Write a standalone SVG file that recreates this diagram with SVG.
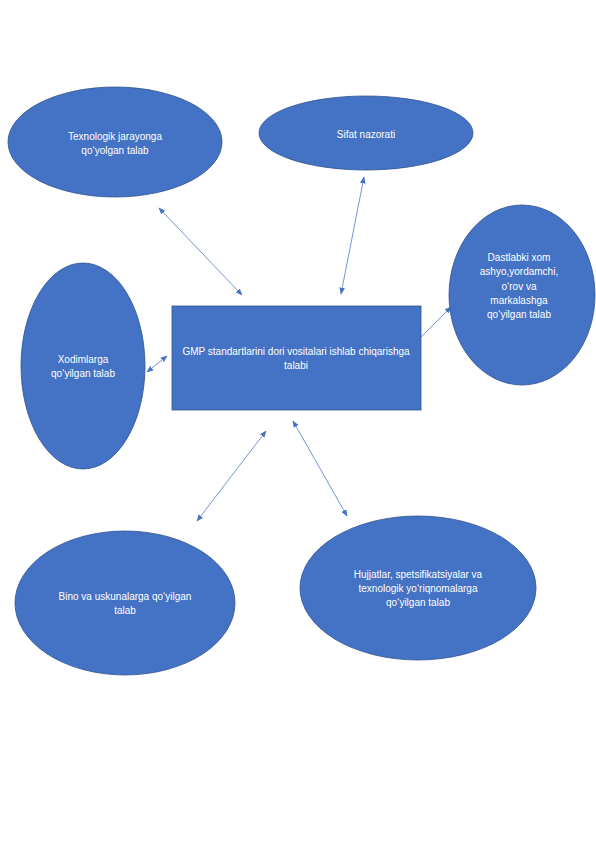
<svg xmlns="http://www.w3.org/2000/svg" width="596" height="842" viewBox="0 0 596 842">
<defs>
<style>
.node{fill:#4472C4;stroke:#2F528F;stroke-width:0.8}
.lbl{font-family:"Liberation Sans",Arial,sans-serif;font-size:10px;fill:#ffffff;text-anchor:middle}
.con{stroke:#4472C4;stroke-width:0.75;fill:none}
</style>
<marker id="ah" viewBox="0 0 10 10" refX="9" refY="5" markerWidth="7" markerHeight="7" orient="auto-start-reverse" markerUnits="userSpaceOnUse">
<path d="M0,1 L10,5 L0,9 Z" fill="#4472C4"/>
</marker>
</defs>
<rect width="596" height="842" fill="#ffffff"/>
<g id="connectors">
<line class="con" x1="159" y1="208" x2="242" y2="295" marker-start="url(#ah)" marker-end="url(#ah)"/>
<line class="con" x1="364" y1="177" x2="341" y2="294" marker-start="url(#ah)" marker-end="url(#ah)"/>
<line class="con" x1="421" y1="337" x2="451" y2="307" marker-end="url(#ah)"/>
<line class="con" x1="147" y1="372" x2="167" y2="356" marker-start="url(#ah)" marker-end="url(#ah)"/>
<line class="con" x1="266" y1="431" x2="197" y2="521" marker-start="url(#ah)" marker-end="url(#ah)"/>
<line class="con" x1="293" y1="421" x2="347" y2="516" marker-start="url(#ah)" marker-end="url(#ah)"/>
</g>
<g id="center">
<rect class="node" x="172" y="306" width="249" height="104"/>
<text class="lbl" x="296" y="355">GMP standartlarini dori vositalari ishlab chiqarishga</text>
<text class="lbl" x="296" y="369">talabi</text>
</g>
<g id="texnologik">
<ellipse class="node" cx="115" cy="142" rx="107" ry="55"/>
<text class="lbl" x="115" y="140">Texnologik jarayonga</text>
<text class="lbl" x="115" y="154">qo‘yolgan talab</text>
</g>
<g id="sifat">
<ellipse class="node" cx="366" cy="133" rx="107" ry="37"/>
<text class="lbl" x="366" y="138">Sifat nazorati</text>
</g>
<g id="dastlabki">
<ellipse class="node" cx="522" cy="295" rx="73" ry="90"/>
<text class="lbl" x="519" y="261">Dastlabki xom</text>
<text class="lbl" x="519" y="275">ashyo,yordamchi,</text>
<text class="lbl" x="519" y="290">o‘rov va</text>
<text class="lbl" x="519" y="304">markalashga</text>
<text class="lbl" x="519" y="318">qo‘yilgan talab</text>
</g>
<g id="xodimlarga">
<ellipse class="node" cx="83" cy="366" rx="62" ry="103"/>
<text class="lbl" x="83" y="363">Xodimlarga</text>
<text class="lbl" x="83" y="377">qo‘yilgan talab</text>
</g>
<g id="bino">
<ellipse class="node" cx="125" cy="603" rx="110" ry="72"/>
<text class="lbl" x="125" y="600">Bino va uskunalarga qo‘yilgan</text>
<text class="lbl" x="125" y="614">talab</text>
</g>
<g id="hujjatlar">
<ellipse class="node" cx="418" cy="588" rx="118" ry="72"/>
<text class="lbl" x="418" y="578">Hujjatlar, spetsifikatsiyalar va</text>
<text class="lbl" x="418" y="592">texnologik yo‘riqnomalarga</text>
<text class="lbl" x="418" y="606">qo‘yilgan talab</text>
</g>
</svg>
